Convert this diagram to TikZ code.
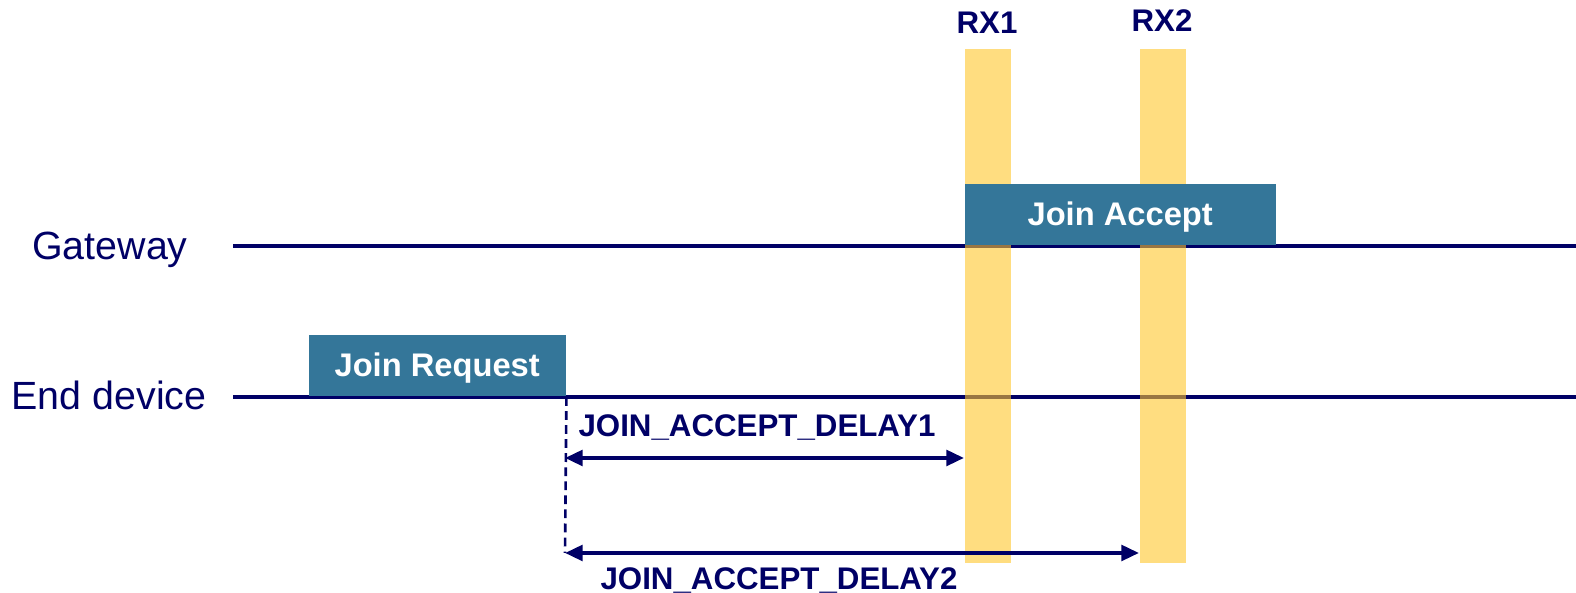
\documentclass[tikz,border=0pt]{standalone}
\usepackage{fontspec}
\setmainfont{Liberation Sans}
\usetikzlibrary{arrows.meta}
\definecolor{navy}{RGB}{0,0,102}
\definecolor{msgblue}{RGB}{52,118,153}
\definecolor{rxyellow}{RGB}{255,198,43}
\tikzset{
  lane/.style={navy, line width=1.1pt},
  lanelabel/.style={text=navy, anchor=base, inner sep=0pt, font=\fontsize{11.2}{13}\selectfont},
  msg/.style={fill=msgblue, text=white, anchor=south west, inner sep=0pt,
    font=\fontsize{9.3}{11}\selectfont\bfseries},
  rx/.style={fill=rxyellow, fill opacity=0.6},
  tag/.style={text=navy, anchor=base, inner sep=0pt, font=\fontsize{8.9}{10}\selectfont\bfseries},
  delay/.style={navy, line width=1.1pt,
    {Triangle[length=5pt,width=4.4pt]}-{Triangle[length=5pt,width=4.4pt]}}
}
\begin{document}
\begin{tikzpicture}
            \useasboundingbox (0,0) rectangle (15.76,5.93);
            % lanes
            \node[lanelabel] (gw) at (1.10,3.33) {Gateway};
            \node[lanelabel] (ed) at (1.09,1.83) {End device};
            \coordinate (gwstart) at (2.33,3.47);
            \coordinate (gwend) at (15.76,3.47);
            \coordinate (edstart) at (2.33,1.96);
            \coordinate (edend) at (15.76,1.96);
            \draw[lane] (gwstart) -- (gwend);
            \draw[lane] (edstart) -- (edend);
            % receive windows
            \fill[rx] (9.65,0.30) rectangle (10.11,5.44);
            \fill[rx] (11.40,0.30) rectangle (11.86,5.44);
            \node[tag] (rx1) at (9.87,5.59) {RX1};
            \node[tag] (rx2) at (11.62,5.61) {RX2};
            % messages
            \node[msg, minimum width=3.11cm, minimum height=0.61cm, text depth=0.03cm] (accept) at (9.64,3.47) {Join Accept};
            \node[msg, minimum width=2.57cm, minimum height=0.61cm, text depth=0.03cm] (request) at (3.08,1.96) {Join Request};
            % delays
            \coordinate (d1start) at (5.65,1.35);
            \coordinate (d1end) at (9.64,1.35);
            \coordinate (d2start) at (5.65,0.40);
            \coordinate (d2end) at (11.39,0.40);
            \draw[navy, line width=0.75pt, dash pattern=on 2.5pt off 1.5pt] (request.south east) -- (d2start);
            \draw[delay] (d1start) -- (d1end);
            \draw[delay] (d2start) -- (d2end);
            \node[tag] (lab1) at (7.57,1.56) {JOIN\_ACCEPT\_DELAY1};
            \node[tag] (lab2) at (7.79,0.03) {JOIN\_ACCEPT\_DELAY2};
        \end{tikzpicture}
\end{document}
